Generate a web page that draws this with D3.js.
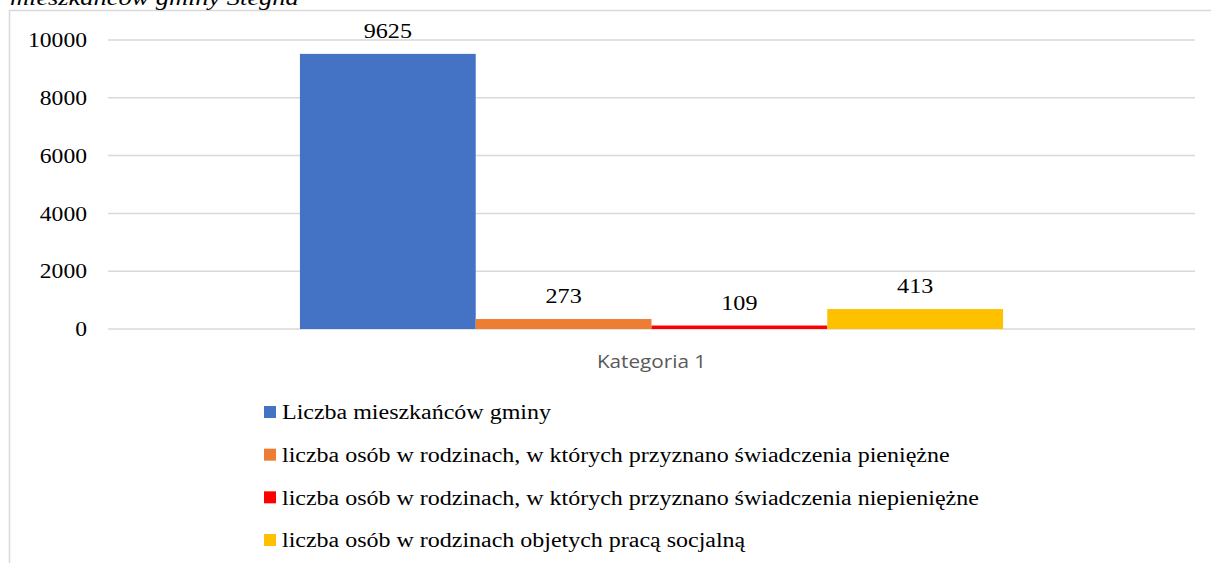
<!DOCTYPE html>
<html>
<head>
<meta charset="utf-8">
<script src="https://cdn.jsdelivr.net/npm/d3@7"></script>
<style>
  body { margin: 0; background: #fff; }
  svg { display: block; }
</style>
</head>
<body>
<div id="chart"></div>
<script>
// data
var categories = ["Kategoria 1"];
var seriesNames = [
    "Liczba mieszkańców gminy",
    "liczba osób w rodzinach, w których przyznano świadczenia pieniężne",
    "liczba osób w rodzinach, w których przyznano świadczenia niepieniężne",
    "liczba osób w rodzinach objetych pracą socjalną"
];
// bar heights as drawn
var barValues = [9520, 345, 120, 690];
// labels as printed above the bars
var dataLabels = ["9625", "273", "109", "413"];
var seriesColors = ["#4472c4", "#ed7d31", "#ff0000", "#ffc000"];
var yTicks = [0, 2000, 4000, 6000, 8000, 10000];

var width = 1211, height = 563;
var margin = {left: 108, right: 16, top: 40, bottom: 234};
var SERIF = "'Liberation Serif', 'Times New Roman', serif";
var SANS = "'Open Sans', 'Liberation Sans', sans-serif";
var SX = 1.15; // the source picture is a bit wider than tall

var svg = d3.select("#chart")
    .append("svg")
    .attr("width", width)
    .attr("height", height);

// chart frame
svg.append("path")
    .attr("d", "M9.5," + height + "V10.5H" + width)
    .attr("fill", "none")
    .attr("stroke", "#d9d9d9")
    .attr("stroke-width", 1.5);

// title, cut off by the page top
svg.append("text")
    .attr("transform", "translate(10,5) scale(1.2,1)")
    .style("font-family", SERIF)
    .style("font-style", "italic")
    .style("font-size", "22px")
    .attr("fill", "#000")
    .text("mieszkańców gminy Stegna");

var y = d3.scaleLinear()
    .domain([0, 10000])
    .range([height - margin.bottom, margin.top]);

var x0 = d3.scaleBand()
    .domain(categories)
    .range([margin.left, width - margin.right])
    .paddingOuter(0.273);

var x1 = d3.scaleBand()
    .domain(d3.range(seriesNames.length))
    .range([0, x0.bandwidth()]);

// gridlines
svg.append("g")
    .selectAll("line")
    .data(yTicks)
    .enter()
    .append("line")
    .attr("x1", margin.left)
    .attr("x2", width - margin.right)
    .attr("y1", function (d) { return y(d); })
    .attr("y2", function (d) { return y(d); })
    .attr("stroke", "#d9d9d9")
    .attr("stroke-width", 1.5);

// y axis labels
var yAxis = svg.append("g")
    .attr("transform", "translate(" + (margin.left - 21) + ",0)")
    .call(d3.axisLeft(y).tickValues(yTicks).tickSize(0).tickPadding(0).tickFormat(d3.format("d")));
yAxis.select(".domain").remove();
yAxis.selectAll("text")
    .attr("x", 0)
    .attr("dy", "0.33em")
    .attr("transform", "scale(1.18,1)")
    .style("font-family", SERIF)
    .style("font-size", "20px")
    .attr("fill", "#000");

// bars
var g = svg.append("g");
categories.forEach(function (cat) {
    g.selectAll("rect")
        .data(barValues)
        .enter()
        .append("rect")
        .attr("x", function (d, i) { return x0(cat) + x1(i); })
        .attr("y", function (d) { return y(d); })
        .attr("width", x1.bandwidth())
        .attr("height", function (d) { return y(0) - y(d); })
        .attr("fill", function (d, i) { return seriesColors[i]; });

    g.selectAll("text.lbl")
        .data(barValues)
        .enter()
        .append("text")
        .attr("class", "lbl")
        .attr("transform", function (d, i) {
            var cx = x0(cat) + x1(i) + x1.bandwidth() / 2;
            return "translate(" + cx + "," + (y(d) - 16) + ") scale(" + SX + ",1)";
        })
        .attr("text-anchor", "middle")
        .style("font-family", SERIF)
        .style("font-size", "21px")
        .attr("fill", "#000")
        .text(function (d, i) { return dataLabels[i]; });
});

// category axis label
svg.append("text")
    .attr("transform", "translate(" + (x0(categories[0]) + x0.bandwidth() / 2) + ",368) scale(" + SX + ",1)")
    .attr("text-anchor", "middle")
    .style("font-family", SANS)
    .style("font-size", "18px")
    .attr("fill", "#595959")
    .text(categories[0]);

// legend
var legendY = d3.scalePoint()
    .domain(d3.range(seriesNames.length))
    .range([412, 540]);

var legend = svg.append("g")
    .selectAll("g")
    .data(seriesNames)
    .enter()
    .append("g")
    .attr("transform", function (d, i) { return "translate(264," + legendY(i) + ")"; });

legend.append("rect")
    .attr("x", 0)
    .attr("y", -6)
    .attr("width", 12)
    .attr("height", 12)
    .attr("fill", function (d, i) { return seriesColors[i]; });

legend.append("text")
    .attr("transform", "translate(18,0) scale(1.17,1)")
    .attr("dy", "0.35em")
    .style("font-family", SERIF)
    .style("font-size", "20.5px")
    .attr("fill", "#000")
    .text(function (d) { return d; });
</script>
</body>
</html>
